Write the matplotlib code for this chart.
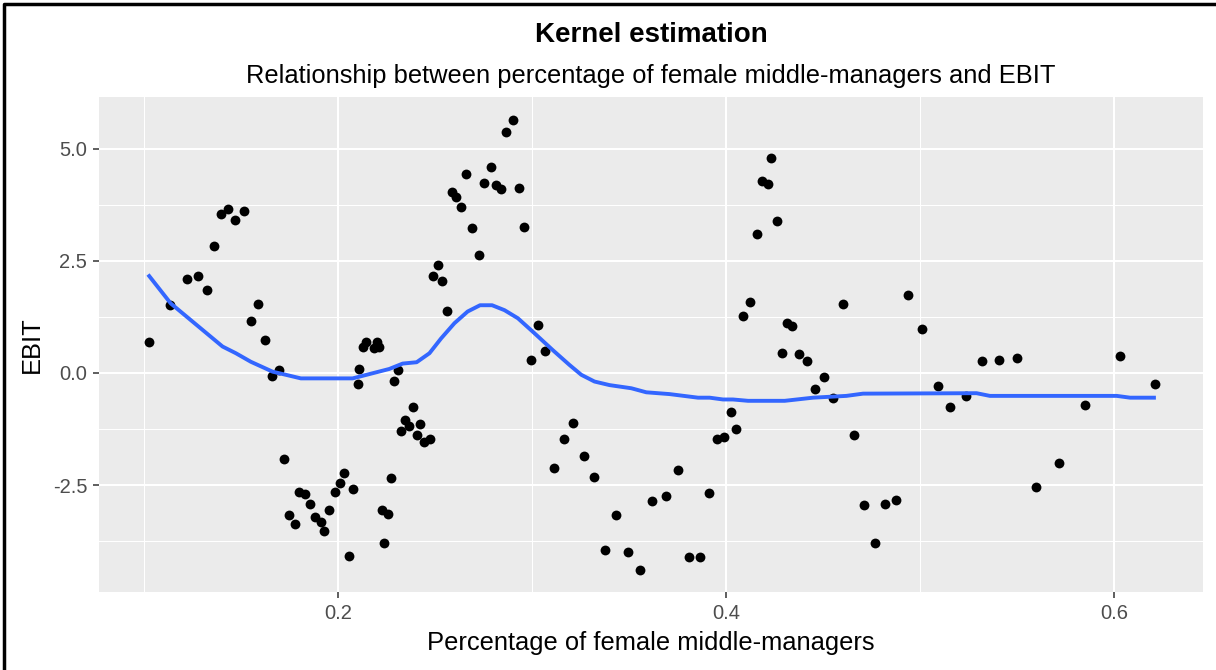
import matplotlib
matplotlib.use("Agg")
import matplotlib.pyplot as plt
from matplotlib.lines import Line2D

plt.rcParams['font.family'] = ['Liberation Sans', 'DejaVu Sans']

# Puntos: porcentaje de mujeres mandos medios vs EBIT
pct_mujeres = [
    0.1025, 0.1133, 0.1222, 0.1277, 0.1322, 0.1358, 0.1396, 0.1431, 0.1467, 0.1513,
    0.1586, 0.1549, 0.1622, 0.1694, 0.1658, 0.1721, 0.1746, 0.1775, 0.1799, 0.1830,
    0.1855, 0.1881, 0.1911, 0.1928, 0.1954, 0.1983, 0.2009, 0.2027, 0.2074, 0.2055,
    0.2108, 0.2100, 0.2143, 0.2129, 0.2198, 0.2186, 0.2208, 0.2289, 0.2310, 0.2272,
    0.2224, 0.2255, 0.2234, 0.2387, 0.2344, 0.2363, 0.2325, 0.2423, 0.2408, 0.2442,
    0.2471, 0.2561, 0.2490, 0.2514, 0.2533, 0.2588, 0.2607, 0.2635, 0.2659, 0.2688,
    0.2723, 0.2750, 0.2786, 0.2812, 0.2841, 0.2931, 0.2867, 0.2903, 0.2958, 0.3031,
    0.3067, 0.2994, 0.3211, 0.3166, 0.3266, 0.3111, 0.3321, 0.3433, 0.3375, 0.3494,
    0.3554, 0.3619, 0.3691, 0.3753, 0.3808, 0.3863, 0.3910, 0.3952, 0.3988, 0.4025,
    0.4053, 0.4089, 0.4125, 0.4161, 0.4183, 0.4218, 0.4233, 0.4261, 0.4286, 0.4314,
    0.4342, 0.4376, 0.4415, 0.4505, 0.4458, 0.4550, 0.4603, 0.4658, 0.4710, 0.4767,
    0.4820, 0.4878, 0.4938, 0.5009, 0.5092, 0.5154, 0.5236, 0.5319, 0.5408, 0.5498,
    0.5597, 0.5716, 0.5852, 0.6031, 0.6212,
]
ebit = [
    0.69, 1.51, 2.09, 2.16, 1.86, 2.83, 3.54, 3.65, 3.41, 3.61,
    1.54, 1.16, 0.73, 0.07, -0.06, -1.92, -3.16, -3.36, -2.66, -2.69,
    -2.93, -3.20, -3.33, -3.51, -3.05, -2.66, -2.46, -2.23, -2.58, -4.07,
    0.10, -0.25, 0.70, 0.59, 0.68, 0.55, 0.58, -0.17, 0.07, -2.35,
    -3.05, -3.14, -3.79, -0.76, -1.05, -1.17, -1.29, -1.14, -1.38, -1.54,
    -1.46, 1.39, 2.17, 2.41, 2.05, 4.04, 3.93, 3.69, 4.43, 3.22,
    2.63, 4.23, 4.59, 4.20, 4.11, 4.12, 5.37, 5.63, 3.26, 1.08,
    0.49, 0.29, -1.11, -1.46, -1.84, -2.12, -2.32, -3.16, -3.95, -3.98,
    -4.38, -2.85, -2.74, -2.16, -4.10, -4.10, -2.67, -1.46, -1.43, -0.87,
    -1.25, 1.27, 1.58, 3.10, 4.28, 4.22, 4.78, 3.38, 0.45, 1.12,
    1.04, 0.42, 0.26, -0.09, -0.36, -0.56, 1.54, -1.38, -2.94, -3.79,
    -2.93, -2.83, 1.74, 0.99, -0.29, -0.76, -0.51, 0.26, 0.29, 0.33,
    -2.54, -2.00, -0.71, 0.38, -0.25,
]

# Curva del kernel
kernel_x = [
    0.1025, 0.1136, 0.1403, 0.1472, 0.1549, 0.1661, 0.1807, 0.2074, 0.2263, 0.2332,
    0.2404, 0.2470, 0.2530, 0.2599, 0.2667, 0.2731, 0.2793, 0.2857, 0.2926, 0.3003,
    0.3106, 0.3192, 0.3253, 0.3321, 0.3399, 0.3511, 0.3588, 0.3708, 0.3855, 0.3915,
    0.3984, 0.4035, 0.4113, 0.4302, 0.4448, 0.4534, 0.4620, 0.4706, 0.5291, 0.5360,
    0.6014, 0.6083, 0.6206,
]
kernel_y = [
    2.16, 1.55, 0.59, 0.44, 0.25, 0.03, -0.12, -0.12, 0.09, 0.21,
    0.24, 0.44, 0.77, 1.11, 1.37, 1.51, 1.51, 1.40, 1.22, 0.92,
    0.51, 0.18, -0.04, -0.19, -0.27, -0.34, -0.43, -0.47, -0.55, -0.55,
    -0.59, -0.59, -0.62, -0.62, -0.55, -0.53, -0.51, -0.46, -0.45, -0.51,
    -0.51, -0.55, -0.55,
]

fig = plt.figure(figsize=(12.16, 6.70), dpi=100)
ax = fig.add_axes([99/1216, 1 - 592/670, 1104/1216, 495/670])
ax.set_facecolor('#EBEBEB')

ax.scatter(pct_mujeres, ebit, s=50, color='black', zorder=3, linewidths=0)
ax.plot(kernel_x, kernel_y, color='#3366FF', lw=2.8, zorder=4)

ax.set_xlim(0.0766, 0.6459)
ax.set_ylim(-4.88, 6.15)
ax.set_xticks([0.2, 0.4, 0.6])
ax.set_xticklabels(['0.2', '0.4', '0.6'])
ax.set_yticks([-2.5, 0.0, 2.5, 5.0])
ax.set_yticklabels(['-2.5', '0.0', '2.5', '5.0'])
ax.set_xticks([0.1, 0.3, 0.5], minor=True)
ax.set_yticks([-3.75, -1.25, 1.25, 3.75], minor=True)

ax.grid(which='major', color='white', lw=1.5)
ax.grid(which='minor', color='white', lw=0.75)
ax.set_axisbelow(True)
for s in ax.spines.values():
    s.set_visible(False)

ax.tick_params(which='major', length=4.5, width=1.1, color='#333333',
               labelsize=14.5, labelcolor='#4D4D4D', pad=4)
ax.tick_params(which='minor', length=0)

ax.set_xlabel('Percentage of female middle-managers', fontsize=18.4, labelpad=6)
ax.set_ylabel('EBIT', fontsize=18.4, labelpad=6)

cx = (99 + 1203) / 2 / 1216
fig.text(cx, 1 - 35/670, 'Kernel estimation', ha='center', va='center',
         fontsize=20, fontweight='bold')
fig.text(cx, 1 - 76/670, 'Relationship between percentage of female middle-managers and EBIT',
         ha='center', va='center', fontsize=18.4)

# marco negro
fig.add_artist(Line2D([4/1216, 4/1216, 1.0], [0.0, 1 - 4/670, 1 - 4/670],
                      transform=fig.transFigure, color='black', lw=2.5))

fig.savefig('out.png', dpi=100)
